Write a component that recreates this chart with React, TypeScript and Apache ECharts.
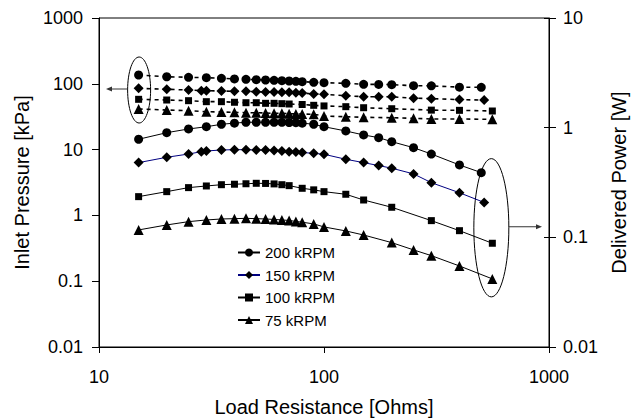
import React, { useEffect, useRef } from "react";
import * as echarts from "echarts";

// Tick labels
const xTickLabels = ["10", "100", "1000"];
const leftTickLabels = ["0.01", "0.1", "1", "10", "100", "1000"];
const rightTickLabels = ["0.01", "0.1", "1", "10"];

// Legend / series names
const speedNames = ["200 kRPM", "150 kRPM", "100 kRPM", "75 kRPM"];

// Load resistance [Ohms]
const x200 = [15, 20, 25, 30, 35, 40, 45, 50, 55, 60, 65, 70, 75, 80, 90, 100, 125, 150, 175, 200, 250, 300, 400, 500];
const x150 = [15, 20, 25, 28.5, 30, 35, 40, 45, 50, 55, 60, 65, 70, 75, 80, 90, 100, 125, 150, 175, 200, 250, 300, 400, 515];
const x100 = [15, 20, 25, 30, 35, 40, 45, 50, 55, 60, 65, 70, 80, 90, 100, 125, 150, 200, 300, 400, 560];
const x75 = [15, 20, 25, 30, 35, 40, 45, 50, 55, 60, 65, 70, 75, 80, 90, 100, 125, 150, 200, 250, 300, 400, 560];

// Inlet pressure [kPa] (left axis, dashed)
const p200 = [136, 128, 125.5, 123.8, 121.3, 118.4, 117, 115.4, 114.2, 113, 111.4, 110.3, 109.2, 107.7, 105.4, 104, 101.8, 98.2, 98, 97, 93.6, 93, 89, 88.5];
const p150 = [85.4, 82.5, 80.5, 78.6, 78.6, 77.8, 76.9, 76.9, 75.9, 75, 75, 74.3, 74.3, 73.3, 72.5, 70, 69.2, 65.9, 63.7, 63.7, 63.5, 60.5, 59.5, 57.5, 56.5];
const p100 = [58.1, 56.7, 55.4, 53.5, 53.5, 52.4, 51.6, 51.6, 50.5, 50.5, 49.9, 49.3, 48.5, 47.1, 46.1, 44.9, 43.3, 41.8, 39.8, 39.5, 38.6];
const p75 = [41.4, 40, 39, 37.7, 37.3, 36.9, 36.4, 36.4, 36, 35.6, 35.6, 35.2, 34.8, 34.8, 34.4, 32.4, 31.6, 31, 30.5, 29.9, 29.2, 29.2, 28.8];

// Delivered power [W] (right axis, solid)
const w200 = [0.784, 0.9, 0.973, 1.02, 1.074, 1.1, 1.12, 1.12, 1.12, 1.12, 1.12, 1.115, 1.11, 1.1, 1.074, 1.02, 0.933, 0.858, 0.811, 0.745, 0.657, 0.575, 0.457, 0.389];
const w150 = [0.48, 0.537, 0.575, 0.604, 0.613, 0.626, 0.63, 0.63, 0.626, 0.625, 0.62, 0.613, 0.604, 0.6, 0.594, 0.583, 0.572, 0.515, 0.48, 0.451, 0.427, 0.379, 0.315, 0.255, 0.208];
const w100 = [0.235, 0.261, 0.284, 0.294, 0.302, 0.305, 0.308, 0.311, 0.31, 0.307, 0.302, 0.296, 0.28, 0.271, 0.261, 0.247, 0.219, 0.188, 0.142, 0.115, 0.0883];
const w75 = [0.1168, 0.1297, 0.139, 0.144, 0.147, 0.148, 0.149, 0.148, 0.147, 0.1456, 0.144, 0.1426, 0.1396, 0.1374, 0.1325, 0.1244, 0.1144, 0.105, 0.0895, 0.0768, 0.0681, 0.0548, 0.0418];

const xs = [x200, x150, x100, x75];
const ps = [p200, p150, p100, p75];
const ws = [w200, w150, w100, w75];
const symbols = ["circle", "diamond", "rect", "triangle"];
const symbolSizes = [9, 10, 7, 10];
const lineColors = ["#000000", "#000080", "#000000", "#000000"];

const FONT = "'Liberation Sans', Arial, Helvetica, sans-serif";

const logFormatter = (labels: string[], min: number) => (v: number) => {
  const i = Math.round(Math.log10(v) - Math.log10(min));
  return labels[i] ?? "";
};

const pair = (x: number[], y: number[]) => x.map((v, i) => [v, y[i]]);

export default function App() {
  const ref = useRef<HTMLDivElement>(null);

  useEffect(() => {
    if (!ref.current) return;
    const chart = echarts.init(ref.current, undefined, { renderer: "svg" });

    const series: any[] = [];
    // solid power series first (legend entries)
    for (let k = 0; k < 4; k++) {
      series.push({
        name: speedNames[k],
        type: "line",
        xAxisIndex: 0,
        yAxisIndex: 1,
        data: pair(xs[k], ws[k]),
        symbol: symbols[k],
        symbolSize: symbolSizes[k],
        itemStyle: { color: "#000" },
        lineStyle: { color: lineColors[k], width: 1 },
      });
    }
    for (let k = 0; k < 4; k++) {
      series.push({
        name: speedNames[k] + " pressure",
        type: "line",
        xAxisIndex: 0,
        yAxisIndex: 0,
        data: pair(xs[k], ps[k]),
        symbol: symbols[k],
        symbolSize: symbolSizes[k],
        itemStyle: { color: "#000" },
        lineStyle: { color: "#000", width: 1.6, type: [4, 4] },
      });
    }

    const axisLine = { show: true, lineStyle: { color: "#000", width: 1 } };
    const labelStyle = { color: "#000", fontSize: 18, fontFamily: FONT };
    const nameStyle = { color: "#000", fontSize: 20, fontFamily: FONT };

    chart.setOption({
      animation: false,
      backgroundColor: "#fff",
      textStyle: { fontFamily: FONT },
      grid: {
        left: 99,
        right: 89,
        top: 18,
        bottom: 73,
        containLabel: false,
        outerBoundsMode: "none",
        show: true,
        borderColor: "#000",
        borderWidth: 1,
        backgroundColor: "transparent",
      },
      legend: {
        data: speedNames,
        orient: "vertical",
        left: 237,
        top: 245,
        padding: 0,
        itemWidth: 22,
        itemHeight: 10,
        itemGap: 7.5,
        textStyle: { color: "#000", fontSize: 15, fontFamily: FONT },
      },
      xAxis: {
        type: "log",
        min: 10,
        max: 1000,
        name: "Load Resistance [Ohms]",
        nameLocation: "middle",
        nameGap: 50,
        nameTextStyle: nameStyle,
        axisLine,
        axisTick: { show: true, inside: false, length: 6, lineStyle: { color: "#000" } },
        axisLabel: { ...labelStyle, margin: 21, formatter: logFormatter(xTickLabels, 10) },
        splitLine: { show: false },
        minorTick: { show: false },
      },
      yAxis: [
        {
          type: "log",
          min: 0.01,
          max: 1000,
          position: "left",
          name: "Inlet Pressure [kPa]",
          nameLocation: "middle",
          nameRotate: 90,
          nameGap: 63,
          nameTextStyle: nameStyle,
          axisLine,
          axisTick: { show: true, inside: false, length: 7, lineStyle: { color: "#000" } },
          axisLabel: { ...labelStyle, margin: 16, formatter: logFormatter(leftTickLabels, 0.01) },
          splitLine: { show: false },
        },
        {
          type: "log",
          min: 0.01,
          max: 10,
          position: "right",
          name: "Delivered Power [W]",
          nameLocation: "middle",
          nameRotate: 90,
          nameGap: 46,
          nameTextStyle: nameStyle,
          axisLine,
          axisTick: { show: true, inside: false, length: 7, lineStyle: { color: "#000" } },
          axisLabel: { ...labelStyle, margin: 14, formatter: logFormatter(rightTickLabels, 0.01) },
          splitLine: { show: false },
        },
        {
          type: "log",
          min: 0.01,
          max: 10,
          position: "right",
          axisLine: { show: false },
          axisTick: { show: true, inside: true, length: 5, lineStyle: { color: "#000" } },
          axisLabel: { show: false },
          splitLine: { show: false },
        },
      ],
      series,
    });

    // Annotations: ellipses around the first pressure points and last power points, with arrows
    const toPx = (yIdx: number, pt: number[]) =>
      chart.convertToPixel({ xAxisIndex: 0, yAxisIndex: yIdx }, pt) as number[];

    const lTop = toPx(0, [x200[0], p200[0]]);
    const lBot = toPx(0, [x75[0], p75[0]]);
    const rTop = toPx(1, [x200[x200.length - 1], w200[w200.length - 1]]);
    const rBot = toPx(1, [x75[x75.length - 1], w75[w75.length - 1]]);
    const axisL = toPx(0, [10, 1])[0];
    const axisR = toPx(0, [1000, 1])[0];

    const lcx = lBot[0] + 0.5;
    const lcy = (lTop[1] + lBot[1]) / 2 - 2;
    const lrx = 11.5;
    const lry = (lBot[1] - lTop[1]) / 2 + 16;

    const rcx = rBot[0] - 1;
    const rcy = (rTop[1] + rBot[1]) / 2 + 2;
    const rrx = 17.5;
    const rry = (rBot[1] - rTop[1]) / 2 + 16;

    const arrowColor = "#333";
    const lTip = axisL + 7;
    const rTip = axisR - 7;

    chart.setOption({
      graphic: [
        {
          type: "ellipse",
          shape: { cx: lcx, cy: lcy, rx: lrx, ry: lry },
          style: { fill: "none", stroke: "#000", lineWidth: 1 },
          silent: true,
        },
        {
          type: "line",
          shape: { x1: lcx - lrx, y1: lcy - 1, x2: lTip + 4, y2: lcy - 1 },
          style: { stroke: arrowColor, lineWidth: 1 },
          silent: true,
        },
        {
          type: "polygon",
          shape: { points: [[lTip, lcy - 1], [lTip + 6, lcy - 3.5], [lTip + 6, lcy + 1.5]] },
          style: { fill: arrowColor },
          silent: true,
        },
        {
          type: "ellipse",
          shape: { cx: rcx, cy: rcy, rx: rrx, ry: rry },
          style: { fill: "none", stroke: "#000", lineWidth: 1 },
          silent: true,
        },
        {
          type: "line",
          shape: { x1: rcx + rrx, y1: rcy - 1, x2: rTip - 4, y2: rcy - 1 },
          style: { stroke: arrowColor, lineWidth: 1 },
          silent: true,
        },
        {
          type: "polygon",
          shape: { points: [[rTip, rcy - 1], [rTip - 6, rcy - 3.5], [rTip - 6, rcy + 1.5]] },
          style: { fill: arrowColor },
          silent: true,
        },
      ],
    });

    return () => chart.dispose();
  }, []);

  return (
    <div
      ref={ref}
      style={{ position: "fixed", left: 0, top: 0, width: 638, height: 420, background: "#fff" }}
    />
  );
}
